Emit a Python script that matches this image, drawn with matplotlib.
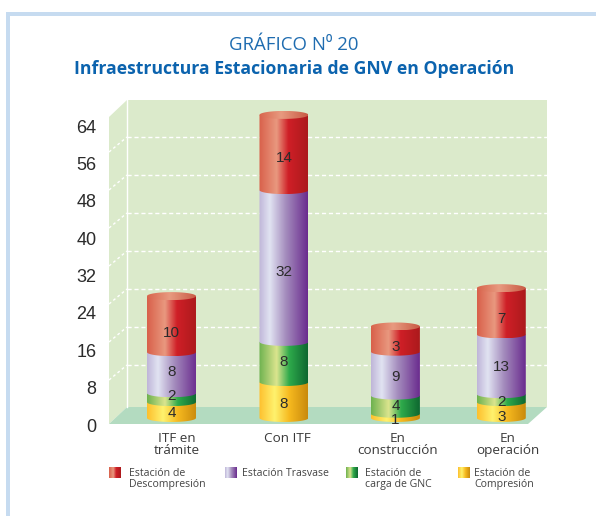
import numpy as np
import matplotlib
matplotlib.use("Agg")
import matplotlib.pyplot as plt
from matplotlib.colors import LinearSegmentedColormap
from matplotlib.patches import PathPatch, Polygon, Rectangle
from matplotlib.path import Path

categories = ["ITF en\ntrámite", "Con ITF", "En\nconstrucción", "En\noperación"]
y_ticks = [0, 8, 16, 24, 32, 40, 48, 56, 64]

# numbers printed on the bars
compresion_labels = [4, 8, 1, 3]
gnc_labels = [2, 8, 4, 2]
trasvase_labels = [8, 32, 9, 13]
descompresion_labels = [10, 14, 3, 7]

# segment heights as drawn, read against the axis (they differ a bit from the printed numbers)
compresion_heights = [3.4, 7.7, 0.9, 3.4]
gnc_heights = [1.9, 8.6, 3.9, 1.7]
trasvase_heights = [8.8, 32.5, 9.4, 12.8]
descompresion_heights = [12.0, 16.1, 5.4, 9.9]

legend_names = ["Estación de\nDescompresión", "Estación Trasvase",
                "Estación de\ncarga de GNC", "Estación de\nCompresión"]

W, H = 596, 516
LEFT, RIGHT, BOTTOM, TOP = 109, 547, 425, 100
PX_PER_UNIT = 4.67
PX_PER_CAT = 110.3
bar_x = [-0.05, 0.97, 1.98, 2.94]
bar_width = 49 / PX_PER_CAT
base = 1.5
ell = 4 / PX_PER_UNIT

# how far each number sits below the middle of its segment, in pixels
label_shifts = [[3, 4, 4, 7], [-1.5, 0, 1, 4], [-1, 6, 3, 3], [9, 5, 7.5, 8]]


def to_x(px):
    return (px - 177) / PX_PER_CAT


def to_y(py):
    return (BOTTOM - py) / PX_PER_UNIT


def ramp(stops):
    return LinearSegmentedColormap.from_list("c", stops)


red = ramp([(0, "#d8604a"), (0.36, "#e9987f"), (0.6, "#cf1f27"), (1, "#ab1a1c")])
purple = ramp([(0, "#bfb5d8"), (0.22, "#e1e3f2"), (0.55, "#a48cbd"), (1, "#6a2b8e")])
green = ramp([(0, "#6db14f"), (0.36, "#dbe58e"), (0.62, "#2eaa4b"), (1, "#0e6730")])
yellow = ramp([(0, "#fdbf2d"), (0.32, "#fff26e"), (0.62, "#f6b91f"), (1, "#c98a0c")])
red_top = ramp([(0, "#d8654c"), (0.45, "#e89a80"), (1, "#c85a44")])
gradient = np.linspace(0, 1, 256)[None, :]

fig = plt.figure(figsize=(W / 100, H / 100), dpi=100)
ax = fig.add_axes([LEFT / W, 1 - BOTTOM / H, (RIGHT - LEFT) / W, (BOTTOM - TOP) / H])
ax.patch.set_visible(False)
for spine in ax.spines.values():
    spine.set_visible(False)

# outer frame
fig.patches.append(Rectangle((6 / W, 0), 4 / W, 1 - 12 / H, transform=fig.transFigure,
                             color="#c6dbf0", lw=0))
fig.patches.append(Rectangle((6 / W, 1 - 16 / H), 1 - 6 / W, 4 / H, transform=fig.transFigure,
                             color="#c6dbf0", lw=0))


def pts(*pairs):
    return [(to_x(a), to_y(b)) for a, b in pairs]


# walls and floor
wall = "#dbeacb"
ax.add_patch(Polygon(pts((109, 117), (127, 100), (127, 407), (109, 424)), color=wall, lw=0, zorder=1))
ax.add_patch(Polygon(pts((127, 100), (547, 100), (547, 407), (127, 407)), color=wall, lw=0, zorder=1))
ax.add_patch(Polygon(pts((109, 424), (127, 407), (547, 407), (528, 424)), color="#b3dbc0", lw=0, zorder=2))
ax.plot(*zip(*pts((127, 100), (127, 407))), color="white", lw=1, zorder=2)
ax.plot(*zip(*pts((109, 425), (528, 425))), color="white", lw=1, zorder=2)

for k in range(1, 8):
    ax.plot(*zip(*pts((127, 403 - 38 * k), (547, 403 - 38 * k))), color="white", lw=1,
            ls=(0, (3, 2)), zorder=2)
    ax.plot(*zip(*pts((109, 418 - 38 * k), (127, 403 - 38 * k))), color="white", lw=1,
            ls=(0, (2, 2)), zorder=2)

series = [
    (compresion_heights, compresion_labels, yellow),
    (gnc_heights, gnc_labels, green),
    (trasvase_heights, trasvase_labels, purple),
    (descompresion_heights, descompresion_labels, red),
]

z = 5
bottoms = np.full(4, base)
arc = np.linspace(np.pi, 2 * np.pi, 40)
for s, (heights, labels, cmap) in enumerate(series):
    rects = ax.bar(bar_x, heights, bar_width, bottom=bottoms, color="none", lw=0, zorder=z)
    for i, rect in enumerate(rects):
        x0, y0, w, h = rect.get_x(), rect.get_y(), rect.get_width(), rect.get_height()
        cx = x0 + w / 2
        low = np.column_stack([cx + w / 2 * np.cos(arc), y0 + ell * np.sin(arc)])
        outline = np.vstack([[(x0, y0 + h)], low, [(x0 + w, y0 + h)], [(x0, y0 + h)]])
        clip = PathPatch(Path(outline), transform=ax.transData, fc="none", lw=0)
        ax.add_patch(clip)
        img = ax.imshow(gradient, cmap=cmap, aspect="auto", interpolation="bilinear",
                        extent=(x0, x0 + w, y0 - ell, y0 + h), zorder=z, clip_on=True)
        img.set_clip_path(clip)
        z += 1
        ax.text(cx, y0 + h / 2 - label_shifts[s][i] / PX_PER_UNIT, str(labels[i]), ha="center",
                va="center", family="Liberation Sans", fontsize=11, color="#2b2b2b", zorder=30)
    bottoms = bottoms + np.array(heights)

# top cap of each cylinder
for i, top in enumerate(bottoms):
    w = bar_width
    th = np.linspace(0, 2 * np.pi, 80)
    outline = np.column_stack([bar_x[i] + w / 2 * np.cos(th), top + ell * np.sin(th)])
    clip = PathPatch(Path(outline), transform=ax.transData, fc="none", lw=0)
    ax.add_patch(clip)
    img = ax.imshow(gradient, cmap=red_top, aspect="auto", interpolation="bilinear",
                    extent=(bar_x[i] - w / 2, bar_x[i] + w / 2, top - ell, top + ell), zorder=25)
    img.set_clip_path(clip)

ax.set_xlim(to_x(LEFT), to_x(RIGHT))
ax.set_ylim(0, to_y(TOP))
ax.set_xticks(range(4))
ax.set_xticklabels(categories, family="Open Sans", fontsize=9.7, color="#3a3a3a", linespacing=0.95)
ax.set_yticks(y_ticks)
ax.set_yticklabels(y_ticks, family="Liberation Sans", fontsize=13, color="#2b2b2b")
ax.tick_params(axis="x", length=0, pad=5)
ax.tick_params(axis="y", length=0, pad=9)

fig.text(294 / W, 1 - 45 / H, "GRÁFICO N\u2070 20", ha="center", va="center",
         family=["Open Sans", "DejaVu Sans"], fontsize=13.4, color="#1f6cb0")
fig.text(294 / W, 1 - 68.5 / H, "Infraestructura Estacionaria de GNV en Operación", ha="center",
         va="center", family="Open Sans", fontweight="bold", fontsize=12.7, color="#0b63ae")

# legend
swatch_x = [109, 225, 346, 458]
text_x = [129, 242, 365, 474]
for name, cmap, sx, tx in zip(legend_names, [red, purple, green, yellow], swatch_x, text_x):
    sw = fig.add_axes([sx / W, 1 - 478 / H, 12 / W, 11 / H])
    sw.imshow(gradient, cmap=cmap, aspect="auto", interpolation="bilinear")
    sw.axis("off")
    fig.text(tx / W, 1 - 467.5 / H, name, ha="left", va="top", family="Open Sans", fontsize=7.6,
             color="#444444", linespacing=1.1)

fig.savefig("out.png", dpi=100)
